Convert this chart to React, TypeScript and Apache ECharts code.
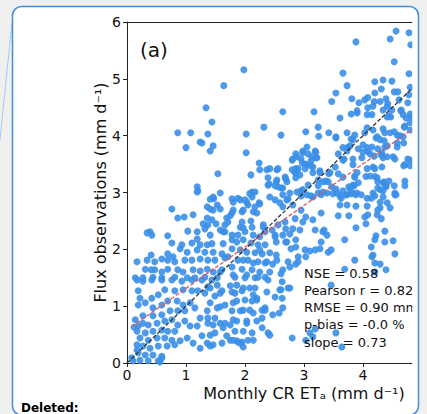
import React, { useEffect, useRef } from "react";
import * as echarts from "echarts";

const xTicks = [0, 1, 2, 3, 4];
const statLines = ["NSE = 0.58", "Pearson r = 0.82", "RMSE = 0.90 mm d⁻¹", "p-bias = -0.0 %", "slope = 0.73"];
const oneToOneLine = [[0, 0], [6, 6]];
const fitLine = [[0.08, 0.64], [4.9, 4.16]];

const highObs = [
  [1.98,5.16],[1.64,4.88],[1.34,4.49],[1.44,4.24],[0.86,4.05],[1.08,4.05],[1.37,4.03],[1.00,3.79],[1.24,3.89],[1.46,3.82],[1.41,3.73],[1.27,3.87],[2.02,4.03],[2.32,4.15],[2.02,3.70],[2.24,3.52],[2.64,4.42],[3.17,4.42],[2.61,4.01],[3.03,4.07],[3.24,4.15],[3.25,3.99],[3.42,4.05],[3.54,3.98],[3.73,4.05],[3.86,4.01],[3.61,4.31],
  [3.88,5.65],[4.46,5.70],[4.56,5.84],[4.78,5.81],[4.53,5.30],[4.81,5.60],[3.66,5.10],[3.73,4.88],[3.54,4.75],[3.47,4.60],[3.81,4.65],[4.20,4.95],[4.34,4.98],[4.49,4.96],[4.31,4.82],[4.20,4.75],[4.53,4.77],[4.59,4.77],[4.78,5.09],[4.78,4.72],[3.93,4.58],[4.03,4.63],[4.08,4.67],[4.19,4.60],[4.29,4.60],[4.39,4.65],[4.42,4.56],[4.76,4.58],[4.80,4.85],
  [4.08,4.49],[4.17,4.52],[4.41,4.51],[4.49,4.45],[4.61,4.63],[4.65,4.45],[4.68,4.37],[4.81,4.33],[3.80,4.38],[3.90,4.40],[4.07,4.37],[4.15,4.37],[4.34,4.45],[4.41,4.33],[4.47,4.33],[4.73,4.31],[3.90,4.44],[4.44,4.35],[4.64,4.44],[4.80,4.38],
  [3.75,3.80],[3.83,3.93],[4.00,3.84],[4.07,4.14],[4.17,4.10],[4.24,3.98],[4.37,4.05],[4.46,4.05],[4.58,4.01],[4.68,3.98],[4.70,4.15],[4.80,4.10],[4.69,3.87],[4.58,3.80],[4.37,3.80],[4.29,3.93],[4.15,3.80],[4.08,3.72],[4.00,3.71],[4.31,3.66],[4.41,3.63],[4.51,3.63],[4.71,3.49],[4.80,3.57],[4.80,3.47],
  [3.80,3.94],[4.03,4.05],[4.22,3.96],[4.34,4.12],[4.53,4.07],[4.63,4.00],[4.71,4.17],[4.80,4.23],[4.36,3.91],[4.58,3.87],[3.66,3.79],[3.73,3.73],[3.78,3.82],[3.92,3.77],[4.07,3.79],[4.25,3.77],[4.32,3.70],[4.41,3.82],[4.54,3.59],[4.69,3.47],[4.76,3.59],[4.12,3.68],[4.19,3.64],[4.34,3.61],[3.98,3.61],[3.83,3.59],[3.68,3.59],
  [3.66,3.57],[3.58,3.68],[3.54,3.96],[3.20,3.71],[3.05,3.80],[3.22,3.61],[3.14,3.63],[2.98,3.70],[2.88,3.63],[2.80,3.57],[2.98,3.73],[2.86,3.68],[2.81,3.59],[2.95,3.59],[3.07,3.68],[3.19,3.73],[3.20,3.61],[3.12,3.56]
];

const midObs = [
  [1.54,3.33],[1.19,3.10],[1.20,3.03],[1.41,2.88],[1.47,2.89],[0.76,2.71],[2.10,3.31],[2.25,3.40],[2.37,3.40],[2.39,3.13],[1.58,2.99],[2.12,3.01],[2.08,2.98],
  [4.32,3.45],[4.17,3.45],[4.20,3.28],[4.05,3.28],[3.90,3.35],[3.83,3.49],[4.25,3.19],[4.36,3.19],[4.39,3.10],[4.29,3.05],[4.56,2.96],[4.17,2.99],[4.07,2.90],[3.83,2.99],[3.73,2.96],[3.56,2.99],[3.63,2.90],[3.76,3.10],[3.83,3.13],[3.86,3.27],[3.66,3.27],[3.53,3.45],[3.44,3.35],[3.32,3.19],[3.41,3.19],[3.27,3.35],[2.97,3.52],[3.05,3.49],[3.15,3.45],[2.90,3.42],[2.80,3.40],[3.15,3.35],[2.93,3.31],[3.24,3.22],[3.07,3.13],[2.86,3.35],[2.68,3.27],[2.54,3.40],[2.41,3.15],[2.53,3.19],[2.56,3.10],[2.71,3.19],[2.64,3.08],[2.76,2.99],[2.88,3.01],[2.98,3.05],[3.05,2.96],[3.15,2.92],[3.24,2.99],[3.39,2.99],[3.47,3.10],[2.71,2.87],[2.59,2.82],[2.51,2.87],[2.42,2.92],[2.17,3.01],[2.12,2.92],[2.03,2.83],[1.92,2.87],[1.80,2.83],[2.24,2.82],[1.46,2.92],
  [3.12,3.47],[3.02,3.50],[2.86,3.42],[3.02,3.42],[3.27,3.38],[2.56,3.42],[2.42,3.42],[2.85,3.35],[2.39,3.26],[2.54,3.22],[2.69,3.24],[2.86,3.26],[3.42,3.33],[3.37,3.20],[3.58,3.33],[3.86,3.29],[3.92,3.17],[3.85,3.12],[4.07,3.42],[4.20,3.42],[4.12,3.29],[4.24,3.26],[4.34,3.17],[4.39,3.12],[4.25,3.08],[4.34,3.03],[4.44,3.20],[4.53,3.12],[4.71,3.20],[4.71,3.12],[2.51,3.12],[2.61,3.08],[3.24,3.12],[3.32,3.01],[3.54,3.06],[3.66,3.03],[3.78,3.06],[3.90,2.99],[4.54,2.99],[2.95,3.03],
  [2.64,2.96],[2.73,2.89],[2.95,2.94],[3.12,2.94],[3.29,2.96],[3.49,2.98],[3.61,2.94],[3.71,2.96],[3.80,2.98],[3.88,2.96],[3.97,2.96],[4.14,2.90],[4.20,2.94],[4.34,2.92],[4.54,2.96],[3.61,2.78],[3.73,2.78],[3.88,2.76],[4.07,2.76],[4.29,2.83],[4.46,2.73],[4.25,2.69],[3.58,2.59],[3.76,2.59],[4.03,2.57],[4.31,2.54],[2.64,2.75],[2.81,2.78],[2.95,2.69],[3.03,2.57],[3.29,2.64],[2.85,2.54],[4.08,2.61],[4.24,2.61],[4.29,2.73],[4.41,2.82],
  [1.19,3.01],[1.53,2.78],[1.41,2.71],[1.36,2.75],[1.46,2.69],[1.58,2.71],[1.78,2.89],[1.88,2.90],[2.00,2.87],[2.25,2.80],[2.05,2.78],[2.17,2.75],[2.14,2.66],[1.95,2.66],[1.80,2.69],[0.86,2.55],[0.97,2.57],[1.12,2.61],[1.36,2.55],[1.44,2.52],[1.69,2.55],[1.75,2.59],[1.78,2.64],[1.97,2.69],[2.20,2.64]
];

const rightLowObs = [
  [2.98,2.48],[3.15,2.52],[2.68,2.48],[2.56,2.43],[2.69,2.36],[2.81,2.36],[2.93,2.34],[2.76,2.27],[2.51,2.25],[2.64,2.25],[2.53,2.13],[2.69,2.13],[2.86,2.17],[3.19,2.34],[3.32,2.31],[3.39,2.25],[3.29,2.13],[3.27,2.01],[3.69,2.17],[4.22,2.24],[4.37,2.32],[4.37,2.13],[4.51,2.15],[4.14,2.04],[4.17,1.90],[4.54,1.92],[4.29,1.74],[4.20,1.60],[4.39,1.64],[3.86,1.81],[3.69,1.65],[2.78,2.01],[2.86,2.04],[3.02,1.99],[3.10,1.97],[2.90,1.87],[3.03,1.87],[2.73,1.78],[2.86,1.74],[2.53,1.90],[2.47,1.74],[2.61,1.57],[3.41,1.95],[3.46,1.99],[2.42,1.60],[4.05,2.45],
  [4.20,1.76],[4.20,2.17],[4.15,1.87],[3.88,2.38],[3.34,2.34],[3.19,1.99],[2.90,1.78],[2.76,1.69],[2.64,1.64],[2.63,1.43],[2.73,1.32],[2.59,1.29],[2.63,1.14],[2.58,0.88],[2.39,0.53],[2.12,0.53],[2.14,0.40],[1.95,0.37],[1.88,0.37],[2.80,0.44],[3.03,0.40],[3.19,0.60],[3.10,0.53],[3.15,0.46],[3.64,0.28],[2.46,2.34],[2.51,2.22],[2.71,2.13],[2.42,1.94],[2.54,1.81],[2.34,1.76],[2.39,1.46],[2.37,1.25],[2.51,1.16],[2.34,0.93],[2.47,0.85],[2.29,0.79],
  [2.61,1.29],[2.76,1.32],[2.64,0.97],[2.42,0.49],[3.54,0.53],[3.46,1.37]
];

const leftLowObs = [
  [1.29,2.45],[1.37,2.43],[1.51,2.45],[1.71,2.48],[1.66,2.43],[1.95,2.48],[2.10,2.50],[2.12,2.39],[1.92,2.39],[2.31,2.43],[1.32,2.36],[1.19,2.31],[1.03,2.32],[1.19,2.18],[1.41,2.25],[1.58,2.34],[1.66,2.31],[1.78,2.25],[1.88,2.25],[2.00,2.31],[2.14,2.25],[2.25,2.22],[2.34,2.31],[0.39,2.31],[0.42,2.25],[0.69,2.24],[0.76,2.11],[0.93,2.08],[1.10,2.11],[1.24,2.08],[1.36,2.08],[1.44,2.10],[1.63,2.10],[1.78,2.17],[1.86,2.13],[1.97,2.17],[2.10,2.11],[2.22,2.08],[2.34,2.08],[0.90,2.01],[1.02,1.95],[1.19,1.99],[1.32,1.95],[1.46,1.95],[1.61,1.92],[1.78,2.01],[1.92,1.99],[2.03,1.95],[2.17,1.94],[2.29,1.92],[0.41,1.90],[0.69,1.92],[0.78,1.87],[0.81,1.78],[0.69,1.81],[0.59,1.83],[0.47,1.78],[0.34,1.81],[0.98,1.81],[1.10,1.81],[1.24,1.83],[1.37,1.81],[1.49,1.81],[1.71,1.87],[1.88,1.81],[2.05,1.81],[2.22,1.78],[2.37,1.78],[0.31,1.65],[0.47,1.64],[0.59,1.60],[0.69,1.65],[0.86,1.64],[0.95,1.60],[1.12,1.64],[1.24,1.62],[1.36,1.65],[1.46,1.60],[1.61,1.64],[1.78,1.69],[1.95,1.65],[2.12,1.64],[2.25,1.60],[0.14,1.50],[0.27,1.50],[0.44,1.51],[0.59,1.50],[0.81,1.51],[1.02,1.50],[1.15,1.50],[1.32,1.51],[1.53,1.50],[1.83,1.51],[2.00,1.50],[2.17,1.50],[2.34,1.51],
  [1.63,2.31],[1.97,2.38],[2.31,2.39],[2.25,1.99],[2.14,1.76],[1.97,1.81],[1.66,1.85],[1.58,1.60],[1.80,1.55],[2.03,1.55],[2.22,1.51],[1.37,1.34],[1.58,1.23],[1.78,1.25],[1.97,1.32],[2.17,1.32],[1.41,1.06],[1.58,0.99],[1.80,1.06],[1.97,0.93],[2.20,1.11],[2.03,0.70],[1.80,0.76],[1.58,0.70],[1.37,0.70],[1.49,0.53],[1.36,0.35],[1.75,0.40],[1.97,0.28],
  [0.17,1.78],[0.41,1.64],[0.34,2.29],[0.12,0.63],[0.17,0.23],[0.56,0.02],[0.59,0.09]
];

const bottomObs = [
  [0.17,1.46],[0.27,1.44],[0.42,1.46],[0.59,1.46],[0.76,1.46],[0.93,1.44],[1.10,1.46],[1.27,1.46],[1.44,1.46],[1.53,1.37],[1.41,1.32],[1.32,1.23],[1.49,1.18],[1.61,1.27],[1.75,1.36],[1.86,1.37],[1.83,1.23],[1.95,1.27],[2.08,1.32],[2.14,1.20],[2.00,1.11],[1.86,1.09],[1.66,1.02],[1.53,0.97],[1.36,0.92],[1.37,0.79],[1.49,0.79],[1.46,0.67],[1.66,0.70],[1.78,0.92],[1.86,0.74],[1.92,0.92],[2.08,0.93],[2.12,1.09],[2.20,1.14],[2.29,0.93],[2.34,0.97],[2.14,0.88],[2.03,0.74],[2.05,0.40],[1.92,0.35],[1.86,0.39],[1.41,0.30],[1.24,0.26],[1.12,0.35],[1.27,0.48],[1.41,0.49],[1.19,0.65],[1.24,0.79],
  [0.19,1.27],[0.22,1.14],[0.19,1.02],[0.31,1.06],[0.42,1.14],[0.53,1.20],[0.64,1.29],[0.81,1.27],[0.95,1.29],[1.10,1.27],[1.20,1.27],[0.44,0.97],[0.59,1.02],[0.69,1.09],[0.85,1.09],[0.95,1.02],[1.07,1.06],[1.15,0.97],[0.98,0.92],[0.86,0.92],[0.73,0.92],[0.59,0.85],[0.44,0.83],[0.27,0.83],[0.14,0.76],[0.19,0.65],[0.27,0.70],[0.36,0.67],[0.51,0.70],[0.64,0.74],[0.76,0.76],[0.86,0.67],[0.98,0.74],[1.07,0.65],[0.81,0.56],[0.69,0.56],[0.59,0.58],[0.44,0.56],[0.31,0.53],[0.17,0.56],[0.22,0.44],[0.36,0.40],[0.51,0.44],[0.64,0.44],[0.76,0.40],[0.90,0.39],[1.02,0.44],[0.17,0.32],[0.27,0.30],[0.39,0.26],[0.53,0.30],[0.68,0.30],[0.81,0.32],[0.19,0.18],[0.31,0.14],[0.44,0.14],[0.59,0.12],[0.22,0.05],[0.36,0.04],[0.53,0.04],[0.08,0.09],[0.10,0.04],
  [1.63,0.62],[1.75,0.67],[1.83,0.56],[1.69,0.48],[1.61,0.35],[1.46,0.32],[1.80,0.40],[1.97,0.56],[2.20,0.74],[2.29,0.62]
];

const FONT = "DejaVu Sans";
const TEXT_COLOR = "#111";
const AXIS_COLOR = "#222";
const PAGE_GRAY = "#f0f0f0";

export default function App() {
  const ref = useRef<HTMLDivElement>(null);
  useEffect(() => {
    if (!ref.current) return;
    const chart = echarts.init(ref.current, null, { renderer: "svg" });
    const points = [...highObs, ...midObs, ...rightLowObs, ...leftLowObs, ...bottomObs];
    const statTexts = statLines.map((t, i) => ({
      type: "text",
      z: 50,
      x: 304,
      y: 273 + i * 17.3,
      style: { text: t, fill: TEXT_COLOR, fontSize: 13, fontFamily: FONT, textAlign: "left", textVerticalAlign: "middle" },
    }));
    const option: any = {
      animation: false,
      backgroundColor: PAGE_GRAY,
      grid: { left: 127, top: 22, width: 354, height: 341, containLabel: false },
      xAxis: [
        {
          type: "value",
          min: 0,
          max: 6,
          interval: 1,
          name: "Monthly CR ETₐ (mm d⁻¹)",
          nameLocation: "middle",
          nameGap: 22,
          nameMoveOverlap: false,
          nameTextStyle: { fontSize: 16, fontFamily: FONT, color: TEXT_COLOR },
          axisLine: { show: true, onZero: false, lineStyle: { color: AXIS_COLOR, width: 1 } },
          axisTick: { show: true, length: 4, customValues: xTicks, lineStyle: { color: AXIS_COLOR } },
          axisLabel: { customValues: xTicks, fontSize: 14, fontFamily: FONT, color: TEXT_COLOR, margin: 5 },
          splitLine: { show: false },
        },
        {
          type: "value",
          position: "top",
          min: 0,
          max: 6,
          interval: 1,
          axisLine: { show: true, onZero: false, lineStyle: { color: AXIS_COLOR, width: 1 } },
          axisTick: { show: false },
          axisLabel: { show: false },
          splitLine: { show: false },
        },
      ],
      yAxis: {
        type: "value",
        min: 0,
        max: 6,
        interval: 1,
        name: "Flux observations (mm d⁻¹)",
        nameLocation: "middle",
        nameGap: 19,
        nameMoveOverlap: false,
        nameTextStyle: { fontSize: 16, fontFamily: FONT, color: TEXT_COLOR },
        axisLine: { show: true, onZero: false, lineStyle: { color: AXIS_COLOR, width: 1 } },
        axisTick: { show: true, length: 4, lineStyle: { color: AXIS_COLOR } },
        axisLabel: { fontSize: 14, fontFamily: FONT, color: TEXT_COLOR, margin: 6 },
        splitLine: { show: false },
      },
      series: [
        {
          type: "scatter",
          xAxisIndex: 0,
          data: points,
          symbolSize: 7,
          itemStyle: { color: "#3b8fe8", opacity: 0.9 },
          silent: true,
          z: 2,
        },
        {
          type: "line",
          xAxisIndex: 0,
          data: oneToOneLine,
          showSymbol: false,
          silent: true,
          lineStyle: { color: "#333", width: 1.3, type: [4, 2] },
          z: 3,
        },
        {
          type: "line",
          xAxisIndex: 0,
          data: fitLine,
          showSymbol: false,
          silent: true,
          lineStyle: { color: "#e3575a", width: 1.3, type: [4, 2] },
          z: 3,
        },
      ],
      graphic: [
        { type: "rect", z: -10, shape: { x: 12.5, y: 6.5, width: 406, height: 408.5, r: 9 }, style: { fill: "#ffffff" } },
        { type: "line", z: -9, shape: { x1: 12, y1: 22, x2: 0, y2: 140 }, style: { stroke: "#6aa5e0", lineWidth: 1, lineDash: [1, 1] } },
        { type: "rect", z: 99, shape: { x: 412.3, y: 12, width: 6.5, height: 390 }, style: { fill: "#ffffff" } },
        { type: "rect", z: 99, shape: { x: 418.6, y: 0, width: 100, height: 414 }, style: { fill: PAGE_GRAY } },
        { type: "rect", z: 100, shape: { x: 12.5, y: 6.5, width: 406, height: 408.5, r: 9 }, style: { fill: "none", stroke: "#3d8fe0", lineWidth: 1.5 } },
        { type: "text", z: 50, x: 140, y: 50, style: { text: "(a)", fill: TEXT_COLOR, fontSize: 20, fontFamily: FONT, textAlign: "left", textVerticalAlign: "middle" } },
        ...statTexts,
        { type: "text", z: 50, x: 21, y: 408, style: { text: "Deleted:", fill: "#000", fontSize: 12, fontWeight: "bold", fontFamily: FONT, textAlign: "left", textVerticalAlign: "middle" } },
      ],
    };
    chart.setOption(option);
    return () => chart.dispose();
  }, []);
  return (
    <div style={{ position: "absolute", left: 0, top: 0, width: 427, height: 414, overflow: "hidden" }}>
      <div ref={ref} style={{ position: "absolute", left: 0, top: 0, width: 520, height: 414 }} />
    </div>
  );
}
